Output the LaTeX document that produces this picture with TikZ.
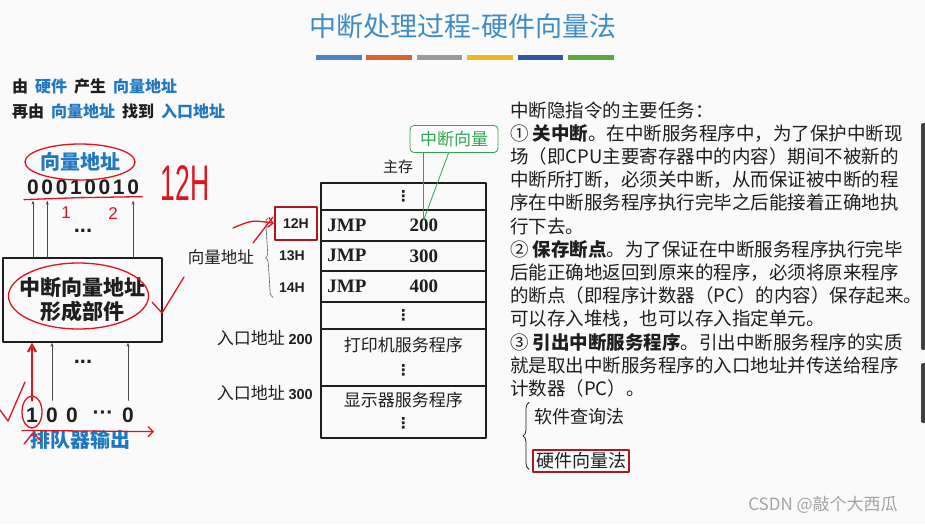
\documentclass[tikz,border=0pt]{standalone}
\usepackage{fontspec}
\setmainfont{Liberation Serif}
\newfontfamily\ivCJK{Noto Sans CJK SC}
\newfontfamily\ivSans{Liberation Sans}
\newfontfamily\ivSym{DejaVu Sans}
\usetikzlibrary{arrows.meta,calc,decorations.pathreplacing}
\definecolor{ivTitle}{HTML}{3E8CC6}
\definecolor{ivBlue}{HTML}{1F78C1}
\definecolor{ivInk}{HTML}{1E1E1E}
\definecolor{ivRed}{HTML}{E0141E}
\definecolor{ivBox}{HTML}{B0161E}
\definecolor{ivGreen}{HTML}{2EA64E}
\definecolor{ivGrey}{HTML}{8C8C8C}
\definecolor{ivPaper}{HTML}{FAFAFA}
\definecolor{ivBarA}{HTML}{4A86C0}
\definecolor{ivBarB}{HTML}{D8642C}
\definecolor{ivBarC}{HTML}{9A9A9A}
\definecolor{ivBarD}{HTML}{EDB81C}
\definecolor{ivBarE}{HTML}{2F56A8}
\definecolor{ivBarF}{HTML}{5EA83C}
\newcommand{\IVSize}[1]{\ivCJK\fontsize{#1}{#1}\selectfont}
\tikzset{iv/base/.style={x=1pt,y=-1pt,line cap=round,line join=round,
  every node/.style={inner sep=0pt,text=ivInk}},
  iv/arrow/.style={-{Stealth[length=4pt,width=3pt]},draw=ivInk!80,line width=.6pt},
  iv/pen/.style={draw=ivRed,line width=1.3pt},
  iv/cell/.style={draw=ivInk,line width=1.6pt,minimum width=165pt,inner sep=0pt},
  iv/unit/.style={draw=ivInk,line width=1.6pt,minimum width=159pt,minimum height=84pt,
    align=center,font=\IVSize{21}\bfseries},
  iv/bit/.style={font=\ivSans\fontsize{21}{21}\selectfont\bfseries},
  iv/gap/.style={font=\ivSans\fontsize{22}{22}\selectfont\bfseries},
  iv/jmp/.style={font=\fontsize{19}{19}\selectfont\bfseries},
  iv/addr/.style={font=\ivSans\fontsize{14}{14}\selectfont\bfseries},
  iv/note/.style={anchor=west,font=\IVSize{18.5}},
  iv/dots/.style={font=\ivSym\fontsize{15}{15}\selectfont\bfseries}}

\begin{document}
\begin{tikzpicture}[iv/base]
  \fill[ivPaper] (0,0) rectangle (925,524);
  \useasboundingbox (0,0) rectangle (925,524);
  % title and colour bars
  \node[text=ivTitle,font=\IVSize{27}] (title) at (463,26) {中断处理过程-硬件向量法};
  \foreach \c [count=\i] in {ivBarA,ivBarB,ivBarC,ivBarD,ivBarE,ivBarF}{
    \fill[\c] ({316+50.4*(\i-1)},55) rectangle +(45.5,5);}
  \node[anchor=west,font=\IVSize{16}\bfseries] (lead1) at (12,86)
    {由\hspace{7pt}\textcolor{ivBlue}{硬件}\hspace{7pt}产生\hspace{7pt}\textcolor{ivBlue}{向量地址}};
  \node[anchor=west,font=\IVSize{16}\bfseries] (lead2) at (12,111)
    {再由\hspace{7pt}\textcolor{ivBlue}{向量地址}\hspace{7pt}找到\hspace{7pt}\textcolor{ivBlue}{入口地址}};
  % left: vector address forming unit
  \node[text=ivBlue,font=\IVSize{20}\bfseries] (vtag) at (80,162) {向量地址};
  \foreach \b [count=\i] in {0,0,0,1,0,0,1,0}{
    \node[iv/bit] (b\i) at ({33+14.3*(\i-1)},187) {\b};}
  \node[iv/unit] (unit) at (82.5,300) {中断向量地址\\[3pt]形成部件};
  \foreach \i in {1,2,8}{\draw[iv/arrow,shorten >=6pt] (unit.north -| b\i) -- (b\i.south);}
  \node[iv/gap] (gap1) at (83,231) {...};
  \foreach \t/\x [count=\i] in {1/32,0/52,0/72,···/103,0/128}{
    \node[iv/bit] (q\i) at (\x,415) {\t};}
  \foreach \i in {2,5}{\draw[iv/arrow] ($(q\i.north)+(0,-7)$) -- (unit.south -| q\i);}
  \node[iv/gap] (gap2) at (83,362) {...};
  \node[text=ivBlue,font=\IVSize{20}\bfseries] (queue) at (80,440) {排队器输出};
  % middle: main memory
  \node[font=\IVSize{15}] (mem) at (398,167) {主存};
  \foreach \n/\top/\h in {m0/182/27,m1/209/31,m2/240/30,m3/270/31,m4/301/27,m5/328/57,m6/385/52}{
    \node[iv/cell,minimum height=\h,anchor=north west] (\n) at (320,\top) {};}
  \node[iv/dots] (d0) at (m0) {⋮};
  \node[iv/dots] (d4) at (m4) {⋮};
  \foreach \n/\r/\v in {1/m1/200,2/m2/300,3/m3/400}{
    \node[iv/jmp] (jmp\n) at ($(\r.west)+(27,0)$) {JMP};
    \node[iv/jmp] (val\v) at ($(\r.center)+(20.5,0)$) {\v};}
  \node[font=\IVSize{17}] (prn) at ($(m5.north)+(0,17)$) {打印机服务程序};
  \node[iv/dots] (d5) at ($(m5.north)+(0,42)$) {⋮};
  \node[font=\IVSize{17}] (dsp) at ($(m6.north)+(0,15)$) {显示器服务程序};
  \node[iv/dots] (d6) at ($(m6.north)+(0,38)$) {⋮};
  \node[iv/addr,draw=ivBox,line width=2pt,minimum width=42pt,minimum height=33pt] (a12H)
    at ($(m1.west)+(-24,-2)$) {12H};
  \node[iv/addr] (a13H) at ($(m2.west)+(-28,0)$) {13H};
  \node[iv/addr] (a14H) at ($(m3.west)+(-28,1)$) {14H};
  \draw[ivInk!70,line width=.6pt,decorate,decoration={brace,amplitude=5pt}]
    ($(a14H.south west)+(-6,5)$) -- ($(a12H.north west)+(-6,12)$);
  \node[anchor=east,font=\IVSize{16.5}] (vlabel) at (254,257) {向量地址};
  \node[anchor=east,font=\IVSize{17}] (e200) at ($(m5.north west)+(-7,10)$)
    {入口地址 {\ivSans\fontsize{14.5}{14.5}\selectfont\bfseries 200}};
  \node[anchor=east,font=\IVSize{17}] (e300) at ($(m6.north west)+(-7,8)$)
    {入口地址 {\ivSans\fontsize{14.5}{14.5}\selectfont\bfseries 300}};
  \node[draw=ivGreen,fill=white,rounded corners=4pt,line width=.8pt,minimum width=88pt,
    minimum height=27pt,text=ivGreen,font=\IVSize{17}] (vec) at (454,139) {中断向量};
  \coordinate (vtip) at ($(val200.north)+(0,1)$);
  \draw[ivGreen,line width=.8pt] (vtip |- vec.south) -- (vtip);
  \draw[ivGreen,line width=.8pt] ($(vec.south west)+(39,0)$) -- (vtip);
  % right: tasks of the implicit instruction
  \foreach \t [count=\i] in {{中断隐指令的主要任务：},
    {① {\bfseries 关中断}。在中断服务程序中，为了保护中断现},
    {场（即CPU主要寄存器中的内容）期间不被新的},
    {中断所打断，必须关中断，从而保证被中断的程},
    {序在中断服务程序执行完毕之后能接着正确地执},
    {行下去。},
    {② {\bfseries 保存断点}。为了保证在中断服务程序执行完毕},
    {后能正确地返回到原来的程序，必须将原来程序},
    {的断点（即程序计数器（PC）的内容）保存起来。},
    {可以存入堆栈，也可以存入指定单元。},
    {③ {\bfseries 引出中断服务程序}。引出中断服务程序的实质},
    {就是取出中断服务程序的入口地址并传送给程序},
    {计数器（PC）。}}{
    \node[iv/note] (n\i) at (510,{110+23.2*(\i-1)}) {\t};}
  \node[anchor=west,font=\IVSize{18}] (soft) at (534,417) {软件查询法};
  \node[anchor=west,font=\IVSize{18},draw=ivBox,line width=2pt,inner sep=3pt] (hard)
    at (532,461) {硬件向量法};
  \draw[ivInk,line width=.8pt,decorate,decoration={brace,amplitude=6pt}]
    ($(hard.south west)+(-3,-4)$) -- ($(soft.north west)+(-5,-6)$);
  \node[text=ivGrey!80,font=\IVSize{17}] (mark) at (823,505) {CSDN @敲个大西瓜};
  \fill[ivInk!85,rounded corners=2pt] (921,123) rectangle (926,350);
  \fill[ivInk!85,rounded corners=2pt] (921,363) rectangle (926,423);
  % hand-drawn red marks
  \draw[iv/pen] (vtag) ellipse (55 and 18);
  \node[text=ivRed,font=\ivSans\fontsize{50}{50}\selectfont] (hand12) at (185,183)
    {\scalebox{.53}[1]{12H}};
  \draw[iv/pen] ($(b1.south west)+(-3,5)$) -- ($(b4.south east)+(3,3)$);
  \draw[iv/pen] ($(b5.south west)+(-3,3)$) -- ($(b8.south east)+(3,2)$);
  \node[text=ivRed,font=\ivSans\fontsize{17}{17}\selectfont] (h1) at (66,213) {1};
  \node[text=ivRed,font=\ivSans\fontsize{17}{17}\selectfont] (h2) at (113,214) {2};
  \draw[iv/pen] ($(unit)+(-4,-4)$) ellipse (70 and 33);
  \draw[iv/pen] (152,302) -- (162,313) -- (184,277);
  \draw[iv/pen,-{Straight Barb[length=5pt]}] (233,228) .. controls (252,220) .. (a12H.west);
  \draw[iv/pen] (253,243) -- (273,217);
  \draw[iv/pen,line width=2.2pt,-{Straight Barb[length=7pt,width=8pt]}] ($(q1.north)+(0,-7)$)
    -- (unit.south -| q1);
  \draw[iv/pen] ($(q1)+(0,-3)$) ellipse (10 and 16);
  \draw[iv/pen] (0,410) -- (8,421) -- (25,382);
  \draw[iv/pen,-{Straight Barb[length=5pt]}] ($(q1.south west)+(-4,8)$) -- ($(q5.south east)+(20,9)$);
  \draw[iv/pen] (24,444) -- (33,433) -- (41,441);
\end{tikzpicture}
\end{document}
